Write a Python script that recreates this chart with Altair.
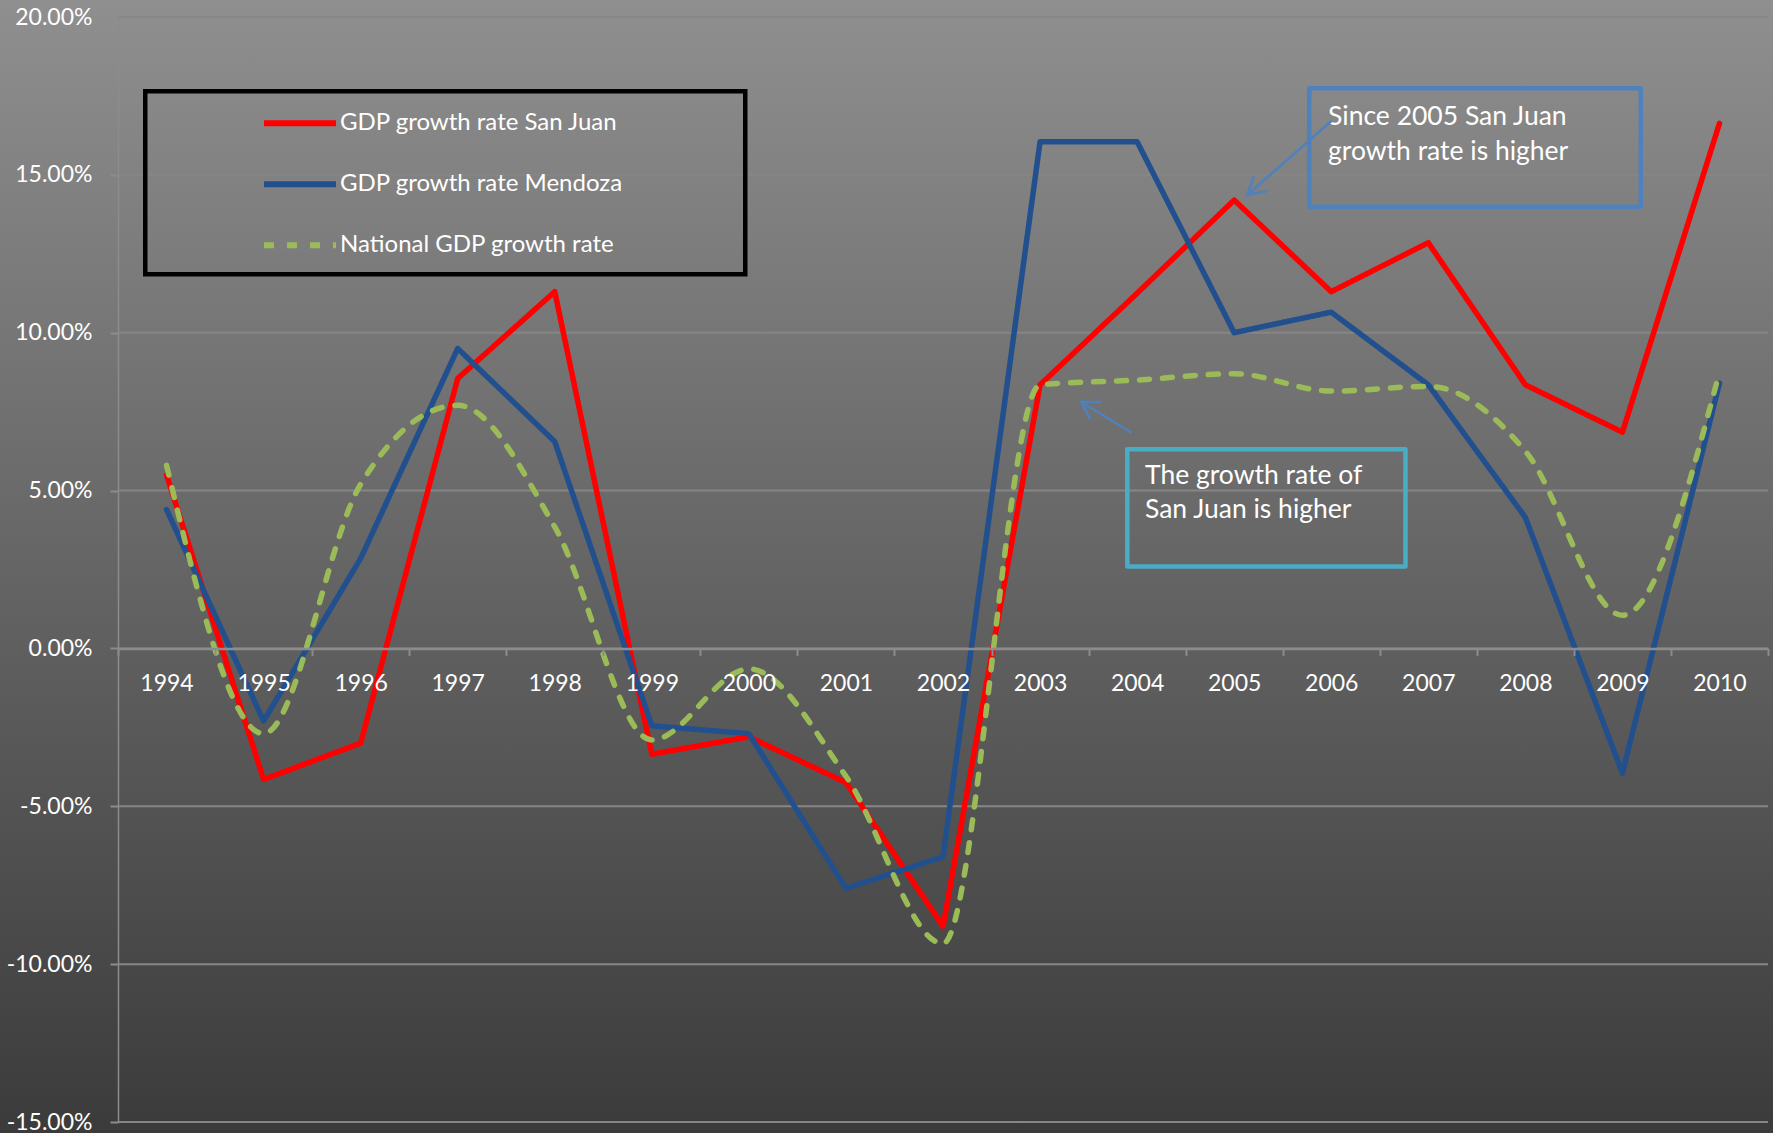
import altair as alt
import pandas as pd

# ---- data (annual GDP growth, %) ----
years = list(range(1994, 2011))
san_juan = [5.5, -4.15, -3.0, 8.55, 11.3, -3.35, -2.8, -4.25, -8.8, 8.35, 11.25, 14.2, 11.3, 12.85, 8.35, 6.85, 16.63]
mendoza = [4.4, -2.3, 2.85, 9.5, 6.55, -2.45, -2.7, -7.6, -6.6, 16.05, 16.05, 10.0, 10.65, 8.35, 4.15, -3.95, 8.4]
national = [5.8, -2.7, 5.2, 7.7, 3.85, -2.9, -0.65, -4.05, -9.35, 8.35, 8.5, 8.7, 8.15, 8.3, 6.25, 1.05, 8.75]

series_names = ["GDP growth rate San Juan", "GDP growth rate Mendoza", "National GDP growth rate"]
series_colors = ["#ff0000", "#22508e", "#9bbb59"]
series_dash = [[1, 0], [1, 0], [10, 13]]

y_ticks = [-15, -10, -5, 0, 5, 10, 15, 20]

# ---- callout boxes, in year / percent units ----
box_names = ["since2005", "higher"]
box_x1 = [2005.773, 2003.899]
box_x2 = [2009.189, 2006.765]
box_y1 = [17.743, 6.307]
box_y2 = [13.990, 2.595]
box_colors = ["#4f81bd", "#4bacc6"]

note_lines = ["Since 2005 San Juan", "growth rate is higher", "The growth rate of", "San Juan is higher"]
note_x = [2005.967, 2005.967, 2004.081, 2004.081]
note_y = [16.579, 15.470, 5.208, 4.131]

arrow_x_from = [2006.005, 2003.944]
arrow_y_from = [16.715, 6.833]
arrow_x_to = [2005.135, 2003.422]
arrow_y_to = [14.362, 7.815]
arrow_angle = [228.6, 301.5]

# ---- tables ----
rows = []
for name, vals in zip(series_names, [san_juan, mendoza, national]):
    for yr, v in zip(years, vals):
        rows.append({"year": yr, "value": v / 100, "series": name})
lines_df = pd.DataFrame(rows)

grid_df = pd.DataFrame({"value": [v / 100 for v in y_ticks]})
box_df = pd.DataFrame({
    "name": box_names, "x1": box_x1, "x2": box_x2,
    "y1": [v / 100 for v in box_y1], "y2": [v / 100 for v in box_y2],
})
note_df = pd.DataFrame({"text": note_lines, "x": note_x, "y": [v / 100 for v in note_y]})
arrow_df = pd.DataFrame({
    "x_from": arrow_x_from, "y_from": [v / 100 for v in arrow_y_from],
    "x_to": arrow_x_to, "y_to": [v / 100 for v in arrow_y_to],
    "angle": arrow_angle,
})

# ---- geometry ----
W, H = 1650, 1105
PAD = {"left": 118, "top": 17, "right": 5, "bottom": 11}
band = W / 17
FONT = "Lato"
AXIS_GREY = "#8c8c8c"

x_scale = alt.Scale(domain=[1993.5, 2010.5], nice=False, zero=False)
y_scale = alt.Scale(domain=[-0.15, 0.20], nice=False, zero=False)

x_axis = alt.Axis(
    values=[1993.5 + i for i in range(18)],
    labelExpr="datum.value < 2010 ? format(datum.value + 0.5, 'd') : ''",
    labelOffset=band / 2,
    offset=-H * 15 / 35,
    tickSize=7, tickWidth=2, tickColor=AXIS_GREY,
    domainColor=AXIS_GREY, domainWidth=2.5,
    labelFont=FONT, labelFontSize=23, labelColor="#ffffff", labelPadding=17,
    labelFlush=False, labelOverlap=False, labelAngle=0,
    grid=False, title=None, zindex=1,
)
y_axis = alt.Axis(
    values=[v / 100 for v in y_ticks],
    labelExpr="replace(format(datum.value, '.2%'), '\u2212', '-')",
    tickSize=8, tickWidth=2, tickColor=AXIS_GREY,
    domainColor=AXIS_GREY, domainWidth=1.5,
    labelFont=FONT, labelFontSize=23, labelColor="#ffffff", labelPadding=18,
    labelFlush=False, labelOverlap=False,
    grid=False, title=None, zindex=1,
)

legend = alt.Legend(
    orient="none", legendX=27.25, legendY=74.25, direction="vertical",
    title="\u00a0", titleOrient="right", titlePadding=106, titleFontSize=20,
    padding=17, rowPadding=34,
    symbolType="M-3,0H3", symbolSize=576, symbolStrokeWidth=6,
    symbolOffset=122.75, labelOffset=25,
    labelFont=FONT, labelFontSize=24, labelColor="#ffffff", labelLimit=500,
    strokeColor="#000000",
)

X = lambda f: alt.X(f, type="quantitative", scale=x_scale, axis=x_axis)
Y = lambda f: alt.Y(f, type="quantitative", scale=y_scale, axis=y_axis)

# backdrop gradient behind the whole figure
backdrop = alt.Chart(pd.DataFrame({"k": [0]})).mark_rect(
    color=alt.LinearGradient(
        gradient="linear",
        stops=[alt.GradientStop(color="#8f8f8f", offset=0),
               alt.GradientStop(color="#3b3b3b", offset=1)],
        x1=0, x2=0, y1=0, y2=1,
    )
).encode(
    x=alt.value(-PAD["left"]), x2=alt.value(W + PAD["right"]),
    y=alt.value(-PAD["top"]), y2=alt.value(H + PAD["bottom"]),
)

gridlines = alt.Chart(grid_df).mark_rule(color="#868686", strokeWidth=2).encode(y=Y("value"))

base = alt.Chart(lines_df)


def series_layer(name, **kw):
    return base.transform_filter(alt.datum.series == name).mark_line(
        strokeWidth=5.5, strokeCap="round", strokeJoin="round", **kw
    ).encode(
        x=X("year"),
        y=Y("value"),
        color=alt.Color("series:N", scale=alt.Scale(domain=series_names, range=series_colors), legend=legend),
        strokeDash=alt.StrokeDash("series:N", scale=alt.Scale(domain=series_names, range=series_dash), legend=legend),
    )


red = series_layer(series_names[0])
blue = series_layer(series_names[1])
# national series is drawn as a smoothed dashed curve
green = series_layer(series_names[2], interpolate="monotone")

boxes = alt.Chart(box_df).mark_rect(fillOpacity=0, strokeWidth=4.5, strokeJoin="round").encode(
    x=X("x1"), x2="x2", y=Y("y1"), y2="y2",
    stroke=alt.Stroke("name:N", scale=alt.Scale(domain=box_names, range=box_colors), legend=None),
)

notes = alt.Chart(note_df).mark_text(
    align="left", baseline="alphabetic", font=FONT, fontSize=26.5, color="#ffffff"
).encode(x=X("x"), y=Y("y"), text="text:N")

arrows = alt.Chart(arrow_df).mark_rule(color="#4f81bd", strokeWidth=2.5).encode(
    x=X("x_from"), x2="x_to", y=Y("y_from"), y2="y_to"
)
heads = alt.Chart(arrow_df).mark_point(
    shape="M-0.58,1L0,0L0.58,1", size=1197, filled=False,
    color="#4f81bd", strokeWidth=2.5, opacity=1,
).encode(x=X("x_to"), y=Y("y_to"), angle=alt.Angle("angle:Q", scale=None))

chart = alt.layer(
    backdrop, gridlines, red, blue, green, boxes, notes, arrows, heads
).properties(
    width=W, height=H,
    autosize=alt.AutoSizeParams(type="none"),
    padding=PAD,
    background="#5e5e5e",
).configure_view(stroke=None).configure_legend(strokeWidth=4.5)

chart.save("out.html", embed_options={"renderer": "svg", "actions": False})
